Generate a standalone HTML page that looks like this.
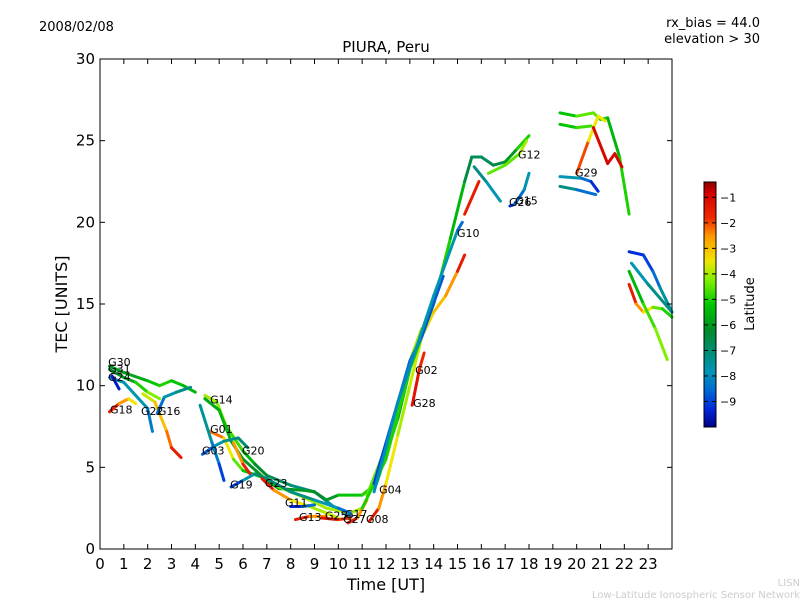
<!DOCTYPE html>
<html><head><meta charset="utf-8"><style>
body{margin:0;background:#fff;font-family:"Liberation Sans","DejaVu Sans",sans-serif}
svg text{font-family:"DejaVu Sans","Liberation Sans",sans-serif}
</style></head><body>
<svg id="c" width="800" height="600" xmlns="http://www.w3.org/2000/svg">
<rect width="800" height="600" fill="#fff"/>
<text x="39" y="31" font-size="13">2008/02/08</text>
<text x="760" y="27" font-size="13" text-anchor="end">rx_bias = 44.0</text>
<text x="760" y="43" font-size="13" text-anchor="end">elevation &gt; 30</text>
<text x="386" y="52" font-size="15" text-anchor="middle">PIURA, Peru</text>
<text x="386" y="590" font-size="16" text-anchor="middle">Time [UT]</text>
<text x="67" y="304" font-size="16" text-anchor="middle" transform="rotate(-90 67 304)">TEC [UNITS]</text>
<text x="754" y="304" font-size="13" text-anchor="middle" transform="rotate(-90 754 304)">Latitude</text>
<text x="800" y="586" font-size="10" fill="#ccc" text-anchor="end">LISN</text>
<text x="800" y="598" font-size="10" fill="#ccc" text-anchor="end">Low-Latitude Ionospheric Sensor Network</text>
<g id="plot"></g>
<g id="cbar"></g>
</svg>
<script>
const xTicks=[0,1,2,3,4,5,6,7,8,9,10,11,12,13,14,15,16,17,18,19,20,21,22,23];
const yTicks=[0,5,10,15,20,25,30];
const cbTicks=[-1,-2,-3,-4,-5,-6,-7,-8,-9];
// tracks: [time, tec, latitude]
const trackG30=[[0.4,11.2,-6],[1,10.8,-6],[2,10.3,-5.5],[2.5,10,-5],[3,10.3,-5],[3.5,10,-5.5],[4,9.6,-5.5]];
const trackG31=[[0.4,11,-6.5],[1,10.5,-6],[1.5,10.2,-5.5],[2,9.6,-4.5],[2.5,9.2,-4]];
const trackG24=[[0.4,10.5,-8],[1,10.2,-8],[1.5,9.4,-7.5],[2,8.6,-8],[2.2,7.2,-8.5]];
const trackBlue1=[[0.5,10.6,-9.5],[0.8,9.8,-9.5]];
const trackG18=[[0.4,8.4,-1],[0.8,8.9,-2],[1.2,9.2,-3],[1.5,8.9,-4]];
const trackG22=[[1.8,9.5,-4],[2.3,9,-3.5],[2.8,7.2,-2.5],[3,6.2,-2],[3.4,5.6,-1]];
const trackG16=[[2.4,8.3,-9],[2.7,9.3,-8],[3.2,9.6,-7.5],[3.8,9.9,-7]];
const trackG14=[[4.4,9.4,-4],[4.9,9,-4],[5.3,7.5,-4.5],[6,6,-5],[6.5,5.2,-6],[7,4.5,-6.5],[8,3.9,-7],[9,3.5,-7.5],[9.8,2.6,-8],[10.5,2.0,-9]];
const trackGreen2=[[4.4,9.2,-6],[5,8.5,-5.5],[5.5,6.6,-5.5],[6,5.5,-6],[7,4.2,-6],[7.5,3.7,-6],[8.5,3.6,-6],[9,3.5,-6],[9.5,3.0,-6.5],[10,3.3,-5.5],[11,3.3,-5],[11.6,4,-5],[12.5,8,-5.5],[13,11,-6]];
const trackG01=[[4.6,7.2,-1.5],[5.2,6.8,-3],[5.6,5.5,-4],[6,4.8,-5],[7,4.3,-5.5],[7.5,3.8,-4.5],[8.5,3.2,-4],[9.5,2.5,-4],[10.5,2.2,-4],[11,2.5,-4]];
const trackG20=[[5.6,6.5,-3],[6,5.2,-2],[6.3,4.6,-1]];
const trackG03=[[4.3,5.8,-9.5],[4.8,6.3,-8],[5.2,6.6,-7.5],[5.8,6.8,-7],[6.2,6.2,-7]];
const trackCyan1=[[4.2,8.8,-7],[4.7,6.5,-8],[5,5.2,-8.5],[5.2,4.2,-9.5]];
const trackG19=[[5.5,3.8,-9.5],[6,4.2,-8.5],[6.5,4.6,-7],[7,4.3,-7],[8,3.5,-7],[9,3.0,-7.5],[10,2.5,-8],[10.5,2.2,-9]];
const trackG23=[[6.8,4.3,-1],[7.3,3.6,-2],[8,3,-3],[8.8,2.6,-4],[9.5,2.2,-4],[10,1.9,-3.5]];
const trackG11=[[8,2.6,-9.5],[8.5,2.6,-9],[9,2.7,-8]];
const trackG13=[[8.2,1.8,-1],[8.8,2.0,-2],[9.5,2.0,-3]];
const trackG25=[[9.3,1.9,-1],[10,1.8,-1.5],[10.5,1.9,-2.5]];
const trackG27=[[10.4,1.6,-1],[10.8,1.9,-2],[11.2,3,-3]];
const trackG08=[[11.3,1.7,-1],[11.7,2.5,-2],[12,4,-3],[12.5,7,-4],[13,10,-4],[13.5,13,-3.5],[14,14.5,-3],[14.5,15.5,-3],[15,17,-2],[15.3,18,-1]];
const trackG04=[[11.2,3.3,-4.5],[11.8,5.5,-4.5],[12.5,8.5,-4],[13,11.5,-4],[13.5,13.5,-4]];
const trackG10=[[11,2.5,-5],[12,5.5,-5],[13,11,-5],[14,15,-5],[14.7,19,-5],[15.3,22.5,-6],[15.6,24,-7],[16,24,-6.5],[16.5,23.5,-7],[17,23.7,-6],[17.5,24.5,-6],[18,25.3,-4]];
const trackBlue2=[[11.5,4,-9],[12,6.5,-9],[12.5,9,-8.5],[13,11.5,-8.5],[13.5,13,-8.5],[14.4,16.7,-9]];
const trackCyan2=[[11.5,3.5,-8],[12.5,9,-8],[13.2,12,-8],[14,15.5,-7.5],[15,19.5,-8],[15.2,20,-9]];
const trackG02=[[13.1,8.8,-1],[13.4,11,-1.5],[13.6,12,-2]];
const trackOrange=[[15.3,20.5,-2],[15.9,22.5,-1]];
const trackG12=[[16.3,23,-4.5],[17,23.5,-4.5],[17.6,24.2,-4.5],[17.9,25,-3.5]];
const trackCyan3=[[15.7,23.4,-7],[16.2,22.5,-7.5],[16.8,21.3,-8]];
const trackG15=[[17.2,21,-9.5],[17.4,21.1,-9],[17.8,22,-8],[18,23,-7.5]];
const trackTop=[[19.3,26.7,-5.5],[20,26.5,-5],[20.7,26.7,-4],[21,26.3,-5],[21.3,26.4,-5],[21.8,24,-6],[22.2,20.5,-4]];
const trackG29=[[20,23,-1],[20.5,25,-3],[20.9,26.5,-4],[21.2,26.2,-3]];
const trackRed=[[20.7,25.8,-1],[21.3,23.6,-1],[21.6,24.2,-1],[21.9,23.4,-1]];
const trackGreen3=[[19.3,26,-5.5],[20,25.8,-5],[20.6,25.9,-4.5]];
const trackCyan4=[[19.3,22.8,-7.5],[20.2,22.7,-8],[20.6,22.5,-9],[20.9,21.9,-9.5]];
const trackTeal=[[19.3,22.2,-7],[20,22,-7.5],[20.8,21.7,-9.5]];
const trackBlue3=[[22.2,18.2,-9.5],[22.8,18,-9],[23.2,17,-9],[23.5,16,-8],[24,14.5,-7]];
const trackRed2=[[22.2,16.2,-1],[22.5,15,-2],[22.8,14.5,-3],[23.2,14.8,-4],[23.6,14.7,-5],[24,14.2,-5]];
const trackGreen4=[[22.2,17,-6],[22.8,15,-5],[23.3,13.5,-4.5],[23.8,11.6,-4]];
const trackCyan5=[[22.3,17.5,-8],[23,16.2,-7.5],[24,14.5,-7]];
const tracks=[trackG30,trackG31,trackG24,trackBlue1,trackG18,trackG22,trackG16,trackG14,trackGreen2,trackG01,trackG20,trackG03,trackCyan1,trackG19,trackG23,trackG11,trackG13,trackG25,trackG27,trackG08,trackG04,trackG10,trackBlue2,trackCyan2,trackG02,trackOrange,trackG12,trackCyan3,trackG15,trackTop,trackG29,trackRed,trackGreen3,trackCyan4,trackTeal,trackBlue3,trackRed2,trackGreen4,trackCyan5];
const labelNames=["G30","G31","G24","G18","G22","G16","G14","G01","G03","G20","G19","G23","G11","G13","G25","G17","G27","G08","G04","G02","G28","G10","G12","G15","G26","G29"];
const labelT=[0.34,0.34,0.34,0.42,1.72,2.43,4.62,4.62,4.28,5.96,5.46,6.92,7.76,8.35,9.44,10.28,10.2,11.16,11.71,13.22,13.14,14.98,17.54,17.42,17.16,19.93];
const labelV=[11.2,10.8,10.3,8.3,8.2,8.2,8.9,7.1,5.8,5.8,3.7,3.8,2.6,1.7,1.8,1.9,1.6,1.6,3.4,10.7,8.7,19.1,23.9,21.1,21.0,22.8];

const X0=100,X1=672,Y0=59,Y1=549;
const xs=t=>X0+t/24*(X1-X0);
const ys=v=>Y1-v/30*(Y1-Y0);
const LMIN=-10,LMAX=-0.4,CB0=182,CB1=427;
const cbY=l=>CB0+(LMAX-l)/(LMAX-LMIN)*(CB1-CB0);
const stops=[[-10,[0,0,130]],[-9.3,[0,40,220]],[-8.5,[0,110,210]],[-7.8,[0,150,180]],[-7,[0,140,110]],[-6.2,[0,140,40]],[-5.2,[0,200,0]],[-4.3,[120,240,0]],[-3.5,[240,230,0]],[-2.5,[255,150,0]],[-1.8,[240,40,0]],[-0.8,[210,0,0]],[-0.4,[140,0,0]]];
function jet(l){l=Math.max(LMIN,Math.min(LMAX,l));
 for(let i=0;i<stops.length-1;i++){const a=stops[i],b=stops[i+1];
  if(l<=b[0]){const f=(l-a[0])/(b[0]-a[0]);
   return 'rgb('+a[1].map((c,k)=>Math.round(c+(b[1][k]-c)*f)).join(',')+')';}}
 return 'rgb(140,0,0)';}
const NS="http://www.w3.org/2000/svg";
function mk(tag,at,parent){const e=document.createElementNS(NS,tag);for(const k in at)e.setAttribute(k,at[k]);parent.appendChild(e);return e;}
const plot=document.getElementById('plot'),cbar=document.getElementById('cbar');
tracks.forEach((tr,i)=>{
 const g=mk('g',{},plot);
 
 
 for(let j=0;j<tr.length-1;j++){
  const a=tr[j],b=tr[j+1];
  const s=mk('line',{x1:xs(a[0]),y1:ys(a[1]),x2:xs(b[0]),y2:ys(b[1]),stroke:jet((a[2]+b[2])/2),'stroke-width':3,'stroke-linecap':'round'},g);
  
  
 }
});
labelNames.forEach((n,i)=>{
 const t=mk('text',{x:xs(labelT[i]),y:ys(labelV[i]),'font-size':11},plot);
 t.textContent=n;
 
 
});
const frame=mk('rect',{x:X0,y:Y0,width:X1-X0,height:Y1-Y0,fill:'none',stroke:'#000','stroke-width':1},plot);


xTicks.forEach(t=>{const x=xs(t);
 mk('line',{x1:x,y1:Y1,x2:x,y2:Y1-5,stroke:'#000'},plot);
 mk('line',{x1:x,y1:Y0,x2:x,y2:Y0+5,stroke:'#000'},plot);
 const l=mk('text',{x:x,y:Y1+20,'font-size':15,'text-anchor':'middle'},plot);l.textContent=t;
 
 
});
yTicks.forEach(v=>{const y=ys(v);
 mk('line',{x1:X0,y1:y,x2:X0+5,y2:y,stroke:'#000'},plot);
 mk('line',{x1:X1,y1:y,x2:X1-5,y2:y,stroke:'#000'},plot);
 const l=mk('text',{x:X0-5,y:y+5,'font-size':15,'text-anchor':'end'},plot);l.textContent=v;
 
 
});
for(let k=0;k<245;k++){const l=LMAX-(k+0.5)/245*(LMAX-LMIN);
 mk('rect',{x:704,y:CB0+k,width:12,height:1.2,fill:jet(l)},cbar);}
mk('rect',{x:704,y:CB0,width:12,height:CB1-CB0,fill:'none',stroke:'#000'},cbar);
cbTicks.forEach(v=>{const y=cbY(v);
 mk('line',{x1:704,y1:y,x2:708,y2:y,stroke:'#000'},cbar);
 mk('line',{x1:716,y1:y,x2:712,y2:y,stroke:'#000'},cbar);
 const l=mk('text',{x:720,y:y+4,'font-size':11},cbar);l.textContent='\u2212'+Math.abs(v);
 
 
});
</script>
</body></html>
